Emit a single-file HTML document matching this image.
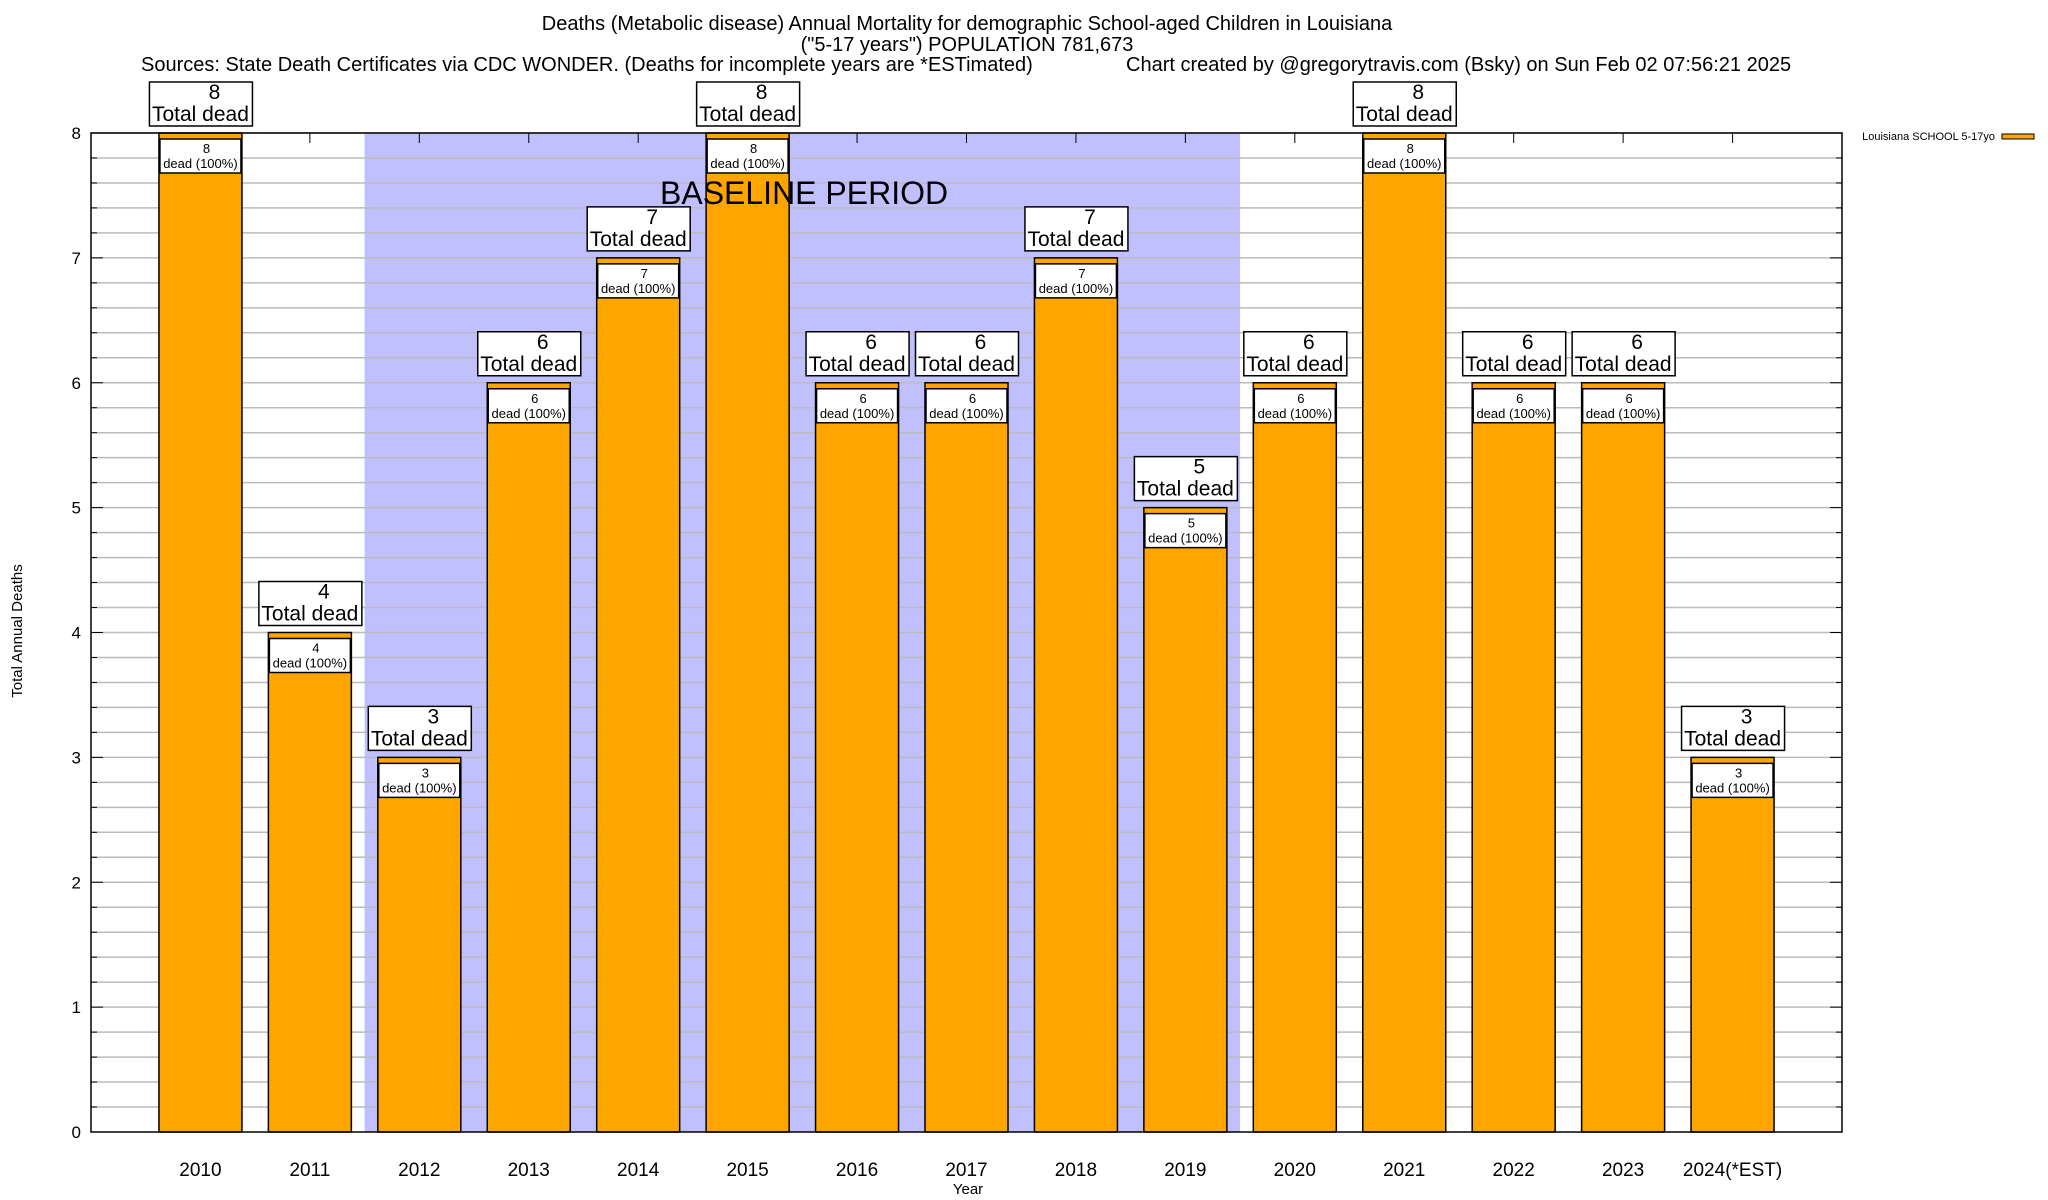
<!DOCTYPE html>
<html><head><meta charset="utf-8"><style>
body{margin:0;background:#fff}
svg{display:block;font-family:"Liberation Sans",Arial,sans-serif}
</style></head><body>
<svg id="chart" width="2048" height="1200" viewBox="0 0 2048 1200" xmlns="http://www.w3.org/2000/svg">
<g font-size="20" fill="#000">
<text x="967" y="30" text-anchor="middle">Deaths (Metabolic disease) Annual Mortality for demographic School-aged Children in Louisiana</text>
<text x="967" y="51" text-anchor="middle">("5-17 years") POPULATION 781,673</text>
<text x="141" y="71">Sources: State Death Certificates via CDC WONDER. (Deaths for incomplete years are *ESTimated)</text>
<text x="1126" y="71">Chart created by @gregorytravis.com (Bsky) on Sun Feb 02 07:56:21 2025</text>
</g>
<g id="plot"></g>
<text x="22" y="631" font-size="15" text-anchor="middle" transform="rotate(-90 22 631)">Total Annual Deaths</text>
<text x="968" y="1194" font-size="15" text-anchor="middle">Year</text>
<g>
<text x="1995" y="140" font-size="11" text-anchor="end">Louisiana SCHOOL 5-17yo</text>
<rect x="2002" y="134" width="32" height="5" fill="#ffa500" stroke="#000" stroke-width="1"/>
</g>
</svg>
<script>
const categories=["2010","2011","2012","2013","2014","2015","2016","2017","2018","2019","2020","2021","2022","2023","2024(*EST)"];
const deaths=[8,4,3,6,7,8,6,6,7,5,6,8,6,6,3];
const yTicks=[0,1,2,3,4,5,6,7,8];
const baselineStart=2;
const baselineEnd=9;

const NS="http://www.w3.org/2000/svg";
const L=91,R=1842,T=133,B=1132,YMAX=8;
const slot=(R-L)/(categories.length+1);
const xC=i=>L+(i+1)*slot;
const yS=v=>B-(v/YMAX)*(B-T);
const g=document.getElementById('plot');
function mk(tag,attrs,parent){const e=document.createElementNS(NS,tag);for(const k in attrs)e.setAttribute(k,attrs[k]);(parent||g).appendChild(e);return e;}

// baseline shading
const sh=mk('rect',{x:xC(baselineStart)-slot/2,y:T,width:(baselineEnd-baselineStart+1)*slot,height:B-T,fill:'#c0c0ff'});



// gridlines
for(let k=1;k<=YMAX*5;k++){
  const v=k/5,y=yS(v);
  const gl=mk('line',{x1:L,x2:R,y1:y,y2:y,stroke:'#bbb','stroke-width':1.5});
  
  
  const len=(k%5===0)?12:6;
  mk('line',{x1:L,x2:L+len,y1:y,y2:y,stroke:'#000','stroke-width':1});
  mk('line',{x1:R-len,x2:R,y1:y,y2:y,stroke:'#000','stroke-width':1});
}
yTicks.forEach(v=>{
  const t=mk('text',{x:L-10,y:yS(v)+6,'font-size':17,'text-anchor':'end'});
  t.textContent=v;
  
  
});

// bars
const bw=83;
categories.forEach((c,i)=>{
  const cx=xC(i),v=deaths[i],yt=yS(v);
  mk('line',{x1:cx,x2:cx,y1:T,y2:T+10,stroke:'#000','stroke-width':1});
  const b=mk('rect',{x:cx-bw/2,y:yt,width:bw,height:B-yt,fill:'#ffa500',stroke:'#000','stroke-width':1.5});
  
  
  const ib=mk('rect',{x:cx-bw/2+1,y:yt+6,width:bw-2,height:34,fill:'#fff',stroke:'#000','stroke-width':1.5});
  
  
  const n1=mk('text',{x:cx+6,y:yt+20,'font-size':13,'text-anchor':'middle'});n1.textContent=v;
  
  
  const n2=mk('text',{x:cx,y:yt+35,'font-size':13,'text-anchor':'middle'});n2.textContent='dead (100%)';
  
  
  const tb=mk('rect',{x:cx-51,y:yt-51,width:103,height:44,fill:'#fff',stroke:'#000','stroke-width':1.5});
  
  
  const t1=mk('text',{x:cx+14,y:yt-34,'font-size':21,'text-anchor':'middle'});t1.textContent=v;
  
  
  const t2=mk('text',{x:cx,y:yt-12,'font-size':21,'text-anchor':'middle'});t2.textContent='Total dead';
  
  
  const xl=mk('text',{x:cx,y:1176,'font-size':19,'text-anchor':'middle'});xl.textContent=c;
  
  
});
const bt=mk('text',{x:660,y:204,'font-size':32});
bt.textContent='BASELINE PERIOD';


const fr=mk('rect',{x:L,y:T,width:R-L,height:B-T,fill:'none',stroke:'#000','stroke-width':1.5});


</script>
</body></html>
